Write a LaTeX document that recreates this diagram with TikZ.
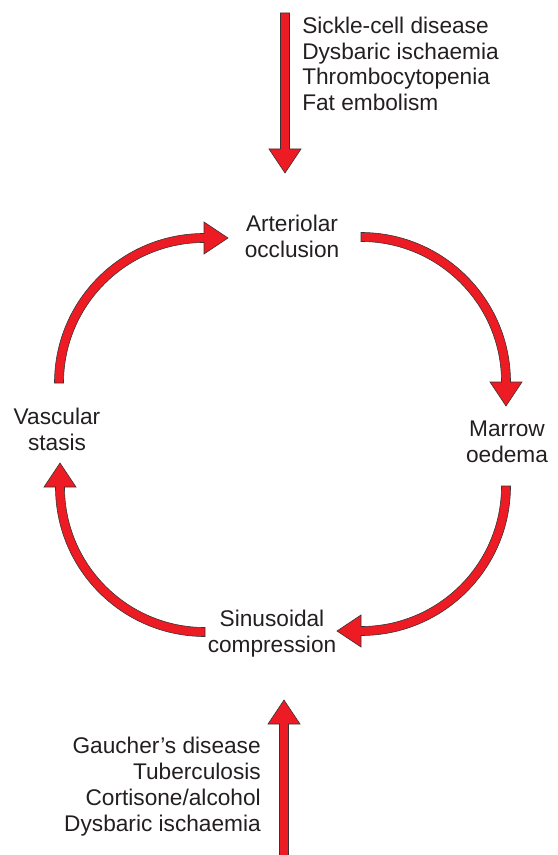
\documentclass[tikz,border=0pt]{standalone}
\usepackage{fontspec}
\setmainfont{Liberation Sans}
\usetikzlibrary{calc}
\definecolor{arrred}{RGB}{237,28,36}
\definecolor{arredge}{RGB}{60,50,50}
\definecolor{txt}{RGB}{35,31,32}
\tikzset{
  fatarrow/.style={fill=arrred, draw=arredge, line width=0.45pt, line join=miter},
  lbl/.style={inner sep=0pt, text=txt, font=\fontsize{17}{19.4}\selectfont},
}
\newcommand\fatarc[3]{%
  \pgfmathsetmacro\myro{#3+4.5}%
  \pgfmathsetmacro\myri{#3-4.5}%
  \pgfmathsetmacro\myho{#3+16}%
  \pgfmathsetmacro\myhi{#3-16}%
  \pgfmathsetmacro\myea{#2+90}%
  \pgfmathsetmacro\myta{#2+180}%
  \filldraw[fatarrow] ($(#1)+(#2:\myro)$) arc[start angle=#2, end angle=\myea, radius=\myro]
    -- ($(#1)+(\myea:\myho)$) -- ($(#1)+(\myea:#3)+(\myta:24)$)
    -- ($(#1)+(\myea:\myhi)$) -- ($(#1)+(\myea:\myri)$)
    arc[start angle=\myea, end angle=#2, radius=\myri] -- cycle;}
\begin{document}
\begin{tikzpicture}[x=0.75pt,y=-0.75pt]
\useasboundingbox (0,0) rectangle (557,855);
% labels
\node[lbl, anchor=north west, align=left] (causesTop) at (302,16.5)
  {Sickle-cell disease\\Dysbaric ischaemia\\Thrombocytopenia\\Fat embolism};
\node[lbl, anchor=north, align=center] (occl) at (292,215) {Arteriolar\\occlusion};
\node[lbl, anchor=north, align=center] (marrow) at (507,421) {Marrow\\oedema};
\node[lbl, anchor=north, align=center] (stasis) at (57,408) {Vascular\\stasis};
\node[lbl, anchor=north, align=center] (sinus) at (272,610) {Sinusoidal\\compression};
\node[lbl, anchor=north east, align=right] (causesBot) at (261,737)
  {Gaucher’s disease\\Tuberculosis\\Cortisone/alcohol\\Dysbaric ischaemia};
% arc centres
\coordinate (cTL) at (204,383);
\coordinate (cTR) at (361,382);
\coordinate (cBR) at (361,486);
\coordinate (cBL) at (205,487);
% cycle arrows
\fatarc{cTL}{180}{145}
\fatarc{cTR}{270}{145}
\fatarc{cBR}{0}{145}
\fatarc{cBL}{90}{145}
% incoming straight arrows
\filldraw[fatarrow] (280.5,13) -- (289.5,13) -- (289.5,149) -- (301,149) -- (285,173)
  -- (269,149) -- (280.5,149) -- cycle;
\filldraw[fatarrow] (279.5,858) -- (279.5,724) -- (268,724) -- (284,700) -- (300,724)
  -- (288.5,724) -- (288.5,858) -- cycle;
\end{tikzpicture}
\end{document}
